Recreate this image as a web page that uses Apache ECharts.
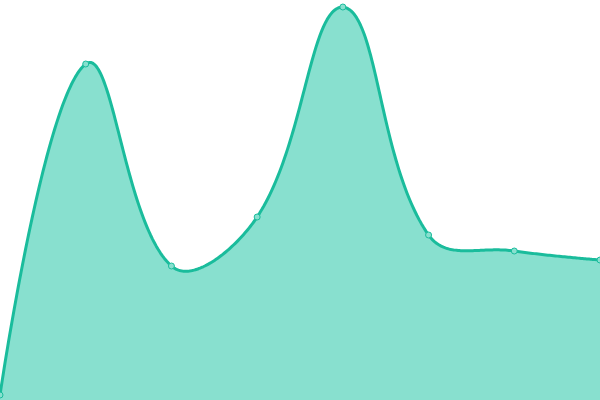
<!DOCTYPE html>
<html>
<head>
<meta charset="utf-8">
<script src="https://cdn.jsdelivr.net/npm/echarts@6/dist/echarts.min.js"></script>
<style>html,body{margin:0;padding:0;background:#fff;}#c{width:600px;height:400px;}</style>
</head>
<body>
<div id="c"></div>
<script>
const categories = ['1', '2', '3', '4', '5', '6', '7', '8'];
const values = [5, 336, 134, 183, 393, 165, 149, 140];

const SMOOTH = 0.4;

// Bezier control points (classic cardinal-style smoothing with bounding-box constraint)
function controlPoints(pts, smooth) {
  let minX = Infinity, minY = Infinity, maxX = -Infinity, maxY = -Infinity;
  pts.forEach(p => { minX = Math.min(minX, p[0]); minY = Math.min(minY, p[1]); maxX = Math.max(maxX, p[0]); maxY = Math.max(maxY, p[1]); });
  const clamp = c => [Math.min(Math.max(c[0], minX), maxX), Math.min(Math.max(c[1], minY), maxY)];
  const cps = [];
  for (let i = 0; i < pts.length; i++) {
    const p = pts[i];
    if (i === 0 || i === pts.length - 1) { cps.push([p[0], p[1]]); continue; }
    const prev = pts[i - 1], next = pts[i + 1];
    const vx = (next[0] - prev[0]) * smooth, vy = (next[1] - prev[1]) * smooth;
    let d0 = Math.hypot(p[0] - prev[0], p[1] - prev[1]);
    let d1 = Math.hypot(p[0] - next[0], p[1] - next[1]);
    const s = d0 + d1;
    if (s !== 0) { d0 /= s; d1 /= s; }
    cps.push(clamp([p[0] - vx * d0, p[1] - vy * d0]));
    cps.push(clamp([p[0] + vx * d1, p[1] + vy * d1]));
  }
  return cps;
}

function sampleCurve(pts, smooth, steps) {
  const cps = controlPoints(pts, smooth);
  const out = [[pts[0][0], pts[0][1]]];
  for (let i = 0; i < pts.length - 1; i++) {
    const p0 = pts[i], c1 = cps[i * 2], c2 = cps[i * 2 + 1], p3 = pts[i + 1];
    for (let k = 1; k <= steps; k++) {
      const t = k / steps, u = 1 - t;
      const a = u * u * u, b = 3 * u * u * t, c = 3 * u * t * t, d = t * t * t;
      out.push([a * p0[0] + b * c1[0] + c * c2[0] + d * p3[0],
                a * p0[1] + b * c1[1] + c * c2[1] + d * p3[1]]);
    }
  }
  return out;
}

const chart = echarts.init(document.getElementById('c'), null, {renderer: 'canvas'});
chart.setOption({
  animation: false,
  grid: {left: 0, right: 0, top: 0, bottom: 0},
  xAxis: {type: 'category', data: categories, boundaryGap: false, show: false},
  yAxis: {type: 'value', min: 0, max: 400, show: false},
  series: [
    {
      type: 'custom',
      coordinateSystem: 'cartesian2d',
      data: [[0, values[0]]],
      z: 1,
      silent: true,
      renderItem: function (params, api) {
        const pts = values.map((v, i) => api.coord([i, v]));
        const curve = sampleCurve(pts, SMOOTH, 60);
        const baseY = api.coord([0, 0])[1];
        const area = [[curve[0][0], baseY]].concat(curve, [[curve[curve.length - 1][0], baseY]]);
        return {
          type: 'group',
          children: [
            {type: 'polygon', shape: {points: area}, style: {fill: '#88e0cf', stroke: null}},
            {type: 'polyline', shape: {points: curve}, style: {fill: null, stroke: '#1abc9c', lineWidth: 3, lineJoin: 'round'}}
          ]
        };
      }
    },
    {
      type: 'line',
      data: values,
      z: 2,
      symbol: 'circle',
      symbolSize: 6,
      lineStyle: {width: 0, opacity: 0},
      itemStyle: {color: '#88e0cf', borderColor: '#1abc9c', borderWidth: 1}
    }
  ]
});
</script>
</body>
</html>
